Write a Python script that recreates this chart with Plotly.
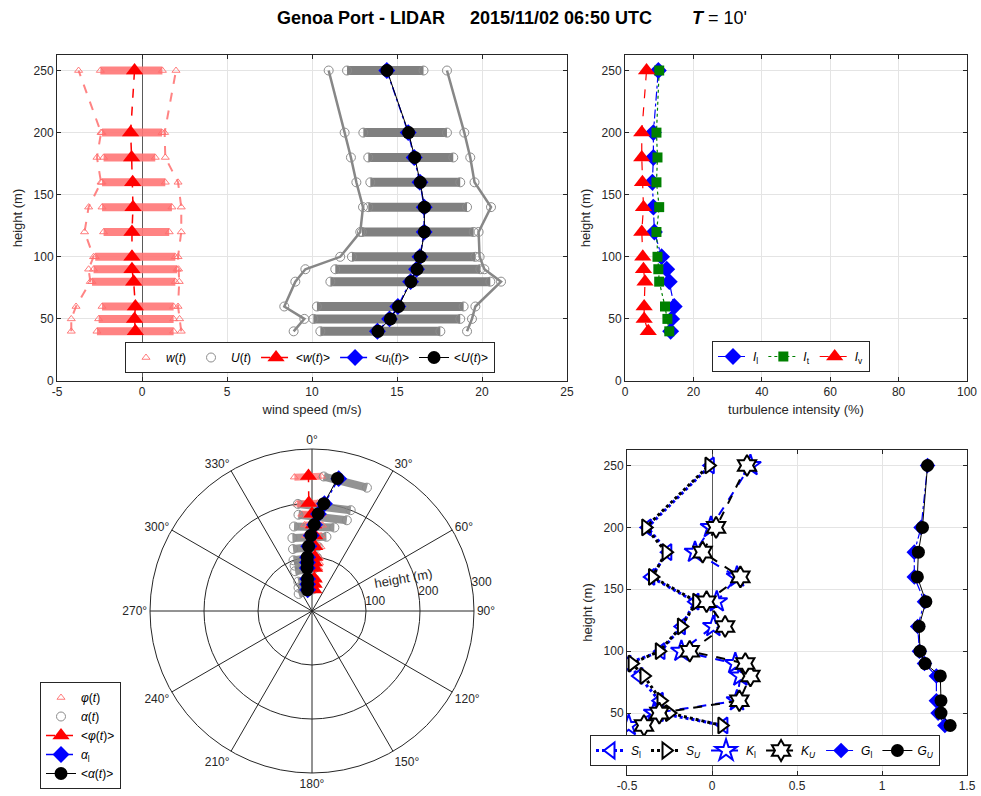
import plotly.graph_objects as go

FONT = "Liberation Sans, Arial, Helvetica, sans-serif"
INK = "#262626"
GRID = "#e4e4e4"
PINK = "rgba(255,118,118,0.9)"
GRAY = "rgb(128,128,128)"
RED = "#ff0000"
BLUE = "#0000ff"
GREEN = "#008000"

# measurement heights (m)
heights = [40, 50, 60, 80, 90, 100, 120, 140, 160, 180, 200, 250]

# vertical velocity w(t) statistics (m/s)
w_mean = [-0.39, -0.44, -0.39, -0.49, -0.59, -0.59, -0.59, -0.53, -0.55, -0.61, -0.67, -0.44]
w_min = [-4.16, -4.16, -3.88, -3.04, -3.14, -2.85, -3.38, -3.14, -2.41, -2.65, -2.41, -3.73]
w_max = [2.31, 2.21, 2.12, 2.19, 2.15, 2.12, 2.31, 2.31, 2.12, 1.37, 1.33, 2.00]
w_core_lo = [-2.65, -2.55, -2.35, -2.94, -2.85, -2.75, -2.26, -2.35, -2.35, -2.26, -2.35, -2.45]
w_core_hi = [1.86, 1.86, 1.86, 1.96, 2.06, 1.96, 1.60, 1.76, 1.37, 0.78, 1.18, 1.20]

# horizontal speed U(t) statistics (m/s)
U_mean = [13.88, 14.61, 15.09, 15.82, 16.18, 16.37, 16.61, 16.61, 16.37, 16.04, 15.68, 14.41]
ul_mean = [13.85, 14.56, 15.05, 15.80, 16.15, 16.35, 16.60, 16.60, 16.35, 16.01, 15.66, 14.40]
U_min = [8.92, 9.55, 8.37, 9.02, 9.61, 11.66, 12.84, 13.00, 12.61, 12.29, 11.92, 10.98]
U_max = [19.12, 19.41, 19.61, 21.12, 20.14, 19.86, 19.80, 20.53, 19.56, 19.31, 18.96, 17.94]
U_core_lo = [10.49, 10.08, 10.29, 11.08, 11.37, 12.35, 12.94, 13.31, 13.43, 13.31, 13.02, 12.06]
U_core_hi = [17.55, 18.72, 18.92, 20.49, 19.90, 19.61, 19.51, 19.12, 18.72, 18.31, 17.94, 16.56]

# turbulence intensities (%)
I_l = [13.35, 13.65, 14.40, 12.95, 12.20, 10.70, 8.60, 8.30, 8.00, 8.30, 8.30, 9.75]
I_t = [12.95, 12.40, 11.70, 10.00, 9.75, 9.50, 9.20, 10.00, 9.20, 9.50, 9.20, 10.00]
I_v = [6.80, 5.60, 5.60, 5.85, 5.40, 5.20, 4.90, 5.40, 5.10, 4.90, 4.90, 6.30]

# skewness, kurtosis and gust factors
S_l = [0.07, -0.31, -0.31, -0.43, -0.50, -0.30, -0.18, -0.10, -0.36, -0.26, -0.38, -0.01]
S_U = [0.058, -0.25, -0.30, -0.40, -0.47, -0.31, -0.18, -0.09, -0.35, -0.27, -0.39, -0.018]
K_l = [-0.49, -0.34, 0.147, 0.167, 0.137, -0.18, 0.008, 0.028, 0.147, -0.10, -0.006, 0.226]
K_U = [-0.40, -0.31, 0.161, 0.226, 0.196, -0.131, 0.077, -0.032, 0.167, -0.055, 0.024, 0.206]
G_l = [1.37, 1.33, 1.32, 1.32, 1.25, 1.22, 1.21, 1.25, 1.19, 1.19, 1.23, 1.268]
G_U = [1.401, 1.347, 1.347, 1.343, 1.254, 1.224, 1.218, 1.258, 1.208, 1.214, 1.238, 1.268]

# directions (deg, clockwise from north)
alpha_mean = [-12.0, -9.5, -8.0, -6.5, -5.5, -5.0, -3.0, -0.8, 1.5, 3.6, 6.3, 10.9]
alpha_l = [-11.5, -9.2, -7.7, -6.2, -5.3, -4.7, -2.8, -0.6, 1.7, 3.8, 6.6, 11.4]
phi_mean = [5.0, 4.5, 4.0, 3.5, 3.0, 3.0, 2.5, 2.0, 1.0, 0.0, -1.7, -1.5]
alpha_lo = [-38, -30, -25, -23, -21, -20, -17, -15, -12, -8, -7.5, 5]
alpha_hi = [2, 3, 3, 4, 4, 5, 5, 11, 15, 21, 21, 24]
phi_lo = [-6, -6, -6, -5, -5, -5, -5, -5, -5, -6, -8, -7.5]
phi_hi = [12, 11, 10, 9, 9, 8, 8, 7, 7, 6, 3, 4]

# axis ticks
x_ticks_tl = [-5, 0, 5, 10, 15, 20, 25]
x_ticks_br = [-0.5, 0, 0.5, 1, 1.5]
r_ticks = [100, 200, 300]
r_label_angle = 80  # compass bearing of the radial tick labels


def segments(lo, hi, hts):
    xs, ys = [], []
    for a, b, h in zip(lo, hi, hts):
        xs += [a, b, None]
        ys += [h, h, None]
    return xs, ys


fig = go.Figure()

# ---------------- wind speed profiles (top left) ----------------
bx, by = segments(w_core_lo, w_core_hi, heights)
fig.add_trace(go.Scatter(x=bx, y=by, mode="lines", line=dict(color=PINK, width=8),
                         showlegend=False, hoverinfo="skip", xaxis="x", yaxis="y"))
bx, by = segments(U_core_lo, U_core_hi, heights)
fig.add_trace(go.Scatter(x=bx, y=by, mode="lines", line=dict(color=GRAY, width=9),
                         showlegend=False, hoverinfo="skip", xaxis="x", yaxis="y"))
for env in (w_min, w_max):
    fig.add_trace(go.Scatter(x=env, y=heights, mode="lines",
                             line=dict(color="rgba(255,110,110,0.85)", width=2, dash="dash"),
                             showlegend=False, hoverinfo="skip", xaxis="x", yaxis="y"))
for env in (U_min, U_max):
    fig.add_trace(go.Scatter(x=env, y=heights, mode="lines",
                             line=dict(color="rgb(135,135,135)", width=2.5),
                             showlegend=False, hoverinfo="skip", xaxis="x", yaxis="y"))

fig.add_trace(go.Scatter(x=w_min + w_max + w_core_lo + w_core_hi, y=heights * 4, mode="markers",
                         marker=dict(symbol="triangle-up-open", size=7, color="rgba(255,110,110,0.9)"),
                         name="<i>w</i>(<i>t</i>)", legend="legend", xaxis="x", yaxis="y"))
fig.add_trace(go.Scatter(x=U_min + U_max + U_core_lo + U_core_hi, y=heights * 4, mode="markers",
                         marker=dict(symbol="circle-open", size=9, color="rgb(140,140,140)"),
                         name="<i>U</i>(<i>t</i>)", legend="legend", xaxis="x", yaxis="y"))
fig.add_trace(go.Scatter(x=w_mean, y=heights, mode="lines+markers",
                         line=dict(color=RED, width=1.5, dash="dash"),
                         marker=dict(symbol="triangle-up", size=15, color=RED),
                         name="&lt;<i>w</i>(<i>t</i>)&gt;", legend="legend", xaxis="x", yaxis="y"))
fig.add_trace(go.Scatter(x=ul_mean, y=heights, mode="lines+markers",
                         line=dict(color=BLUE, width=1.5, dash="dashdot"),
                         marker=dict(symbol="diamond", size=13, color=BLUE),
                         name="&lt;<i>u</i><sub>l</sub>(<i>t</i>)&gt;", legend="legend", xaxis="x", yaxis="y"))
fig.add_trace(go.Scatter(x=U_mean, y=heights, mode="lines+markers",
                         line=dict(color="black", width=1),
                         marker=dict(symbol="circle", size=13, color="black"),
                         name="&lt;<i>U</i>(<i>t</i>)&gt;", legend="legend", xaxis="x", yaxis="y"))

# ---------------- turbulence intensity (top right) ----------------
fig.add_trace(go.Scatter(x=I_l, y=heights, mode="lines+markers",
                         line=dict(color=BLUE, width=1.2, dash="dashdot"),
                         marker=dict(symbol="diamond", size=13, color=BLUE),
                         name="<i>I</i><sub>l</sub>", legend="legend2", xaxis="x2", yaxis="y2"))
fig.add_trace(go.Scatter(x=I_t, y=heights, mode="lines+markers",
                         line=dict(color=GREEN, width=1.2, dash="dot"),
                         marker=dict(symbol="square", size=10, color=GREEN),
                         name="<i>I</i><sub>t</sub>", legend="legend2", xaxis="x2", yaxis="y2"))
fig.add_trace(go.Scatter(x=I_v, y=heights, mode="lines+markers",
                         line=dict(color=RED, width=1.2, dash="dash"),
                         marker=dict(symbol="triangle-up", size=15, color=RED),
                         name="<i>I</i><sub>v</sub>", legend="legend2", xaxis="x2", yaxis="y2"))

# ---------------- higher-order statistics (bottom right) ----------------
fig.add_trace(go.Scatter(x=S_l, y=heights, mode="lines+markers",
                         line=dict(color=BLUE, width=3, dash="dot"),
                         marker=dict(symbol="triangle-left", size=14, color="white",
                                     line=dict(color=BLUE, width=2)),
                         name="<i>S</i><sub>l</sub>", legend="legend4", xaxis="x3", yaxis="y3"))
fig.add_trace(go.Scatter(x=S_U, y=heights, mode="lines+markers",
                         line=dict(color="black", width=3, dash="dot"),
                         marker=dict(symbol="triangle-right", size=14, color="white",
                                     line=dict(color="black", width=2)),
                         name="<i>S<sub>U</sub></i>", legend="legend4", xaxis="x3", yaxis="y3"))
fig.add_trace(go.Scatter(x=K_l, y=heights, mode="lines+markers",
                         line=dict(color=BLUE, width=2, dash="dash"),
                         marker=dict(symbol="star", size=16, color="white",
                                     line=dict(color=BLUE, width=2)),
                         name="<i>K</i><sub>l</sub>", legend="legend4", xaxis="x3", yaxis="y3"))
fig.add_trace(go.Scatter(x=K_U, y=heights, mode="lines+markers",
                         line=dict(color="black", width=2, dash="dash"),
                         marker=dict(symbol="hexagram", size=16, color="white",
                                     line=dict(color="black", width=2)),
                         name="<i>K<sub>U</sub></i>", legend="legend4", xaxis="x3", yaxis="y3"))
fig.add_trace(go.Scatter(x=G_l, y=heights, mode="lines+markers",
                         line=dict(color=BLUE, width=1.2, dash="dashdot"),
                         marker=dict(symbol="diamond", size=12, color=BLUE),
                         name="<i>G</i><sub>l</sub>", legend="legend4", xaxis="x3", yaxis="y3"))
fig.add_trace(go.Scatter(x=G_U, y=heights, mode="lines+markers",
                         line=dict(color="black", width=1),
                         marker=dict(symbol="circle", size=13, color="black"),
                         name="<i>G<sub>U</sub></i>", legend="legend4", xaxis="x3", yaxis="y3"))

# ---------------- direction polar plot (bottom left) ----------------
th, rr = segments(alpha_lo, alpha_hi, heights)
fig.add_trace(go.Scatterpolar(r=rr, theta=th, mode="lines",
                              line=dict(color="rgba(128,128,128,0.85)", width=8),
                              showlegend=False, hoverinfo="skip"))
th, rr = segments(phi_lo, phi_hi, heights)
fig.add_trace(go.Scatterpolar(r=rr, theta=th, mode="lines",
                              line=dict(color="rgba(255,110,110,0.75)", width=7),
                              showlegend=False, hoverinfo="skip"))
fig.add_trace(go.Scatterpolar(r=heights * 2, theta=phi_lo + phi_hi, mode="markers",
                              marker=dict(symbol="triangle-up-open", size=7, color="rgba(255,110,110,0.9)"),
                              name="<i>φ</i>(<i>t</i>)", legend="legend3"))
fig.add_trace(go.Scatterpolar(r=heights * 2, theta=alpha_lo + alpha_hi, mode="markers",
                              marker=dict(symbol="circle-open", size=9, color="rgb(140,140,140)"),
                              name="<i>α</i>(<i>t</i>)", legend="legend3"))
fig.add_trace(go.Scatterpolar(r=heights, theta=phi_mean, mode="lines+markers",
                              line=dict(color=RED, width=1.5, dash="dash"),
                              marker=dict(symbol="triangle-up", size=15, color=RED),
                              name="&lt;<i>φ</i>(<i>t</i>)&gt;", legend="legend3"))
fig.add_trace(go.Scatterpolar(r=heights, theta=alpha_l, mode="lines+markers",
                              line=dict(color=BLUE, width=1.5, dash="dashdot"),
                              marker=dict(symbol="diamond", size=13, color=BLUE),
                              name="<i>α</i><sub>l</sub>", legend="legend3"))
fig.add_trace(go.Scatterpolar(r=heights, theta=alpha_mean, mode="lines+markers",
                              line=dict(color="black", width=1),
                              marker=dict(symbol="circle", size=13, color="black"),
                              name="&lt;<i>α</i>(<i>t</i>)&gt;", legend="legend3"))
# radial tick labels, written just outside each range ring along the label bearing
fig.add_trace(go.Scatterpolar(r=r_ticks, theta=[r_label_angle] * len(r_ticks), mode="text",
                              text=[str(v) for v in r_ticks], textposition="middle right",
                              textfont=dict(size=12, color=INK, family=FONT),
                              cliponaxis=False, showlegend=False, hoverinfo="skip"))

W, H = 981, 796


def px_x(a, b):
    return [a / W, b / W]


def px_y(top, bottom):
    return [1 - bottom / H, 1 - top / H]


axis_common = dict(showline=True, linecolor=INK, linewidth=1, mirror="ticks",
                   ticks="inside", ticklen=4, tickcolor=INK, automargin=False,
                   showgrid=True, gridcolor=GRID, gridwidth=1, zeroline=False,
                   tickfont=dict(size=12, color=INK), title_font=dict(size=13, color=INK))

legend_common = dict(bgcolor="white", bordercolor=INK, borderwidth=1,
                     font=dict(size=12, color="black", family=FONT))

nb = "\u00a0"
fig.update_layout(
    width=W, height=H,
    margin=dict(l=0, r=0, t=0, b=0, autoexpand=False),
    paper_bgcolor="white", plot_bgcolor="white",
    font=dict(family=FONT, color=INK),
    title=dict(text="<b>Genoa Port - LIDAR" + nb * 5 + "2015/11/02 06:50 UTC" + nb * 8
               + "<i>T</i></b> = 10'",
               x=512 / W, xanchor="center", y=1 - 18 / H, yanchor="middle",
               font=dict(size=18, color="black", family=FONT)),
    xaxis=dict(axis_common, domain=px_x(57, 567), range=[-5, 25],
               tickvals=x_ticks_tl, ticktext=[str(v) for v in x_ticks_tl],
               zeroline=True, zerolinecolor="#5a5a5a", zerolinewidth=1,
               title=dict(text="wind speed (m/s)", standoff=6), anchor="y"),
    yaxis=dict(axis_common, domain=px_y(55, 381), range=[0, 262.5], dtick=50,
               title=dict(text="height (m)", standoff=8), anchor="x"),
    xaxis2=dict(axis_common, domain=px_x(625, 967), range=[0, 100], dtick=20,
                title=dict(text="turbulence intensity (%)", standoff=6), anchor="y2"),
    yaxis2=dict(axis_common, domain=px_y(55, 381), range=[0, 262.5], dtick=50,
                title=dict(text="height (m)", standoff=8), anchor="x2"),
    xaxis3=dict(axis_common, domain=px_x(627, 967), range=[-0.5, 1.5],
                tickvals=x_ticks_br, ticktext=["-0.5", "0", "0.5", "1", "1.5"],
                zeroline=True, zerolinecolor="#5a5a5a", zerolinewidth=1, anchor="y3"),
    yaxis3=dict(axis_common, domain=px_y(450, 775), range=[0, 262.5],
                tickvals=[50, 100, 150, 200, 250],
                title=dict(text="height (m)", standoff=8), anchor="x3"),
    polar=dict(
        domain=dict(x=px_x(150, 474), y=px_y(449, 773)),
        bgcolor="white",
        angularaxis=dict(rotation=90, direction="clockwise", dtick=30, ticksuffix="°",
                         showline=True, linecolor=INK, linewidth=1,
                         gridcolor=INK, gridwidth=1, ticks="",
                         tickfont=dict(size=12, color=INK)),
        radialaxis=dict(range=[0, 300], tickvals=r_ticks, showline=False,
                        showticklabels=False,
                        gridcolor=INK, gridwidth=1, ticks="", angle=10),
    ),
    legend=dict(legend_common, orientation="h", x=125 / W, xanchor="left",
                y=1 - 342 / H, yanchor="top"),
    legend2=dict(legend_common, orientation="h", x=712 / W, xanchor="left",
                 y=1 - 341 / H, yanchor="top"),
    legend3=dict(legend_common, orientation="v", x=40 / W, xanchor="left",
                 y=1 - 789 / H, yanchor="bottom"),
    legend4=dict(legend_common, orientation="h", x=590 / W, xanchor="left",
                 y=1 - 735 / H, yanchor="top"),
    annotations=[dict(text="height (m)", x=403 / W, y=1 - 578 / H, xref="paper", yref="paper",
                      xanchor="center", yanchor="middle",
                      showarrow=False, textangle=-10, font=dict(size=13, color=INK))],
)

fig.write_html("out.html")
